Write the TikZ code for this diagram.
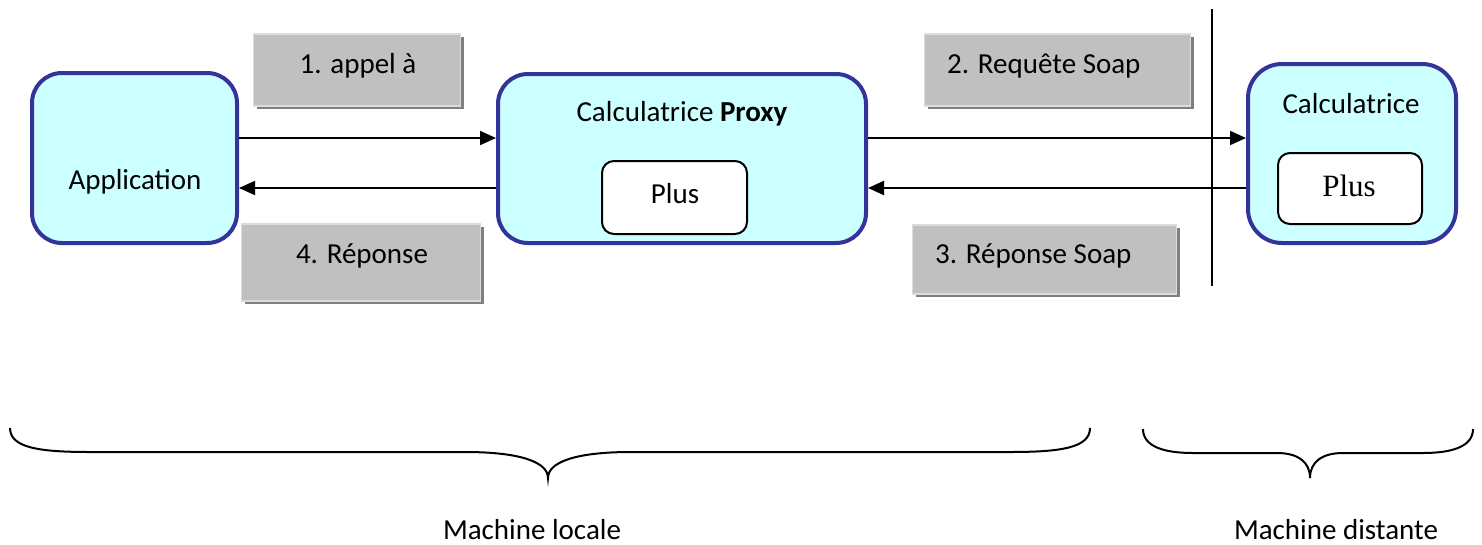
\documentclass[tikz,border=0pt]{standalone}
\usepackage{fontspec}
\setmainfont{Carlito}
\newfontfamily\timesfont{Liberation Serif}
\usetikzlibrary{arrows.meta,calc}

\definecolor{nodefill}{HTML}{CCFFFF}
\definecolor{nodeborder}{HTML}{333399}
\definecolor{labelgray}{HTML}{C0C0C0}
\definecolor{labeledge}{HTML}{DCDCDC}
\definecolor{labelshadow}{HTML}{7F7F7F}

\tikzset{
  txt/.style={inner sep=0pt, font=\fontsize{29}{35}\selectfont, anchor=base},
  component/.style={draw=nodeborder, line width=4pt, fill=nodefill,
    rounded corners=30pt, inner sep=0pt},
  method/.style={draw=black, line width=2pt, fill=white,
    rounded corners=12pt, inner sep=0pt},
  msgbox/.style={draw=labeledge, line width=1.5pt, fill=labelgray, inner sep=0pt,
    preaction={fill=labelshadow, transform canvas={xshift=3pt,yshift=-3pt}}},
  flow/.style={line width=2pt, -{Triangle[length=16pt,width=14pt]}},
  brace/.style={line width=2pt},
}

\begin{document}
\begin{tikzpicture}[x=1pt,y=-1pt]
\useasboundingbox (0,0) rectangle (1482,544);

% message labels (drawn first, shadows underneath)
\node[msgbox, minimum width=207pt, minimum height=72pt] (m1) at (357,70) {};
\node[txt] (m1t) at (358,73) {1. appel à};
\node[msgbox, minimum width=266pt, minimum height=72pt] (m2) at (1057.5,70) {};
\node[txt, anchor=base west] (m2t) at (947,73) {2. Requête Soap};
\node[msgbox, minimum width=264pt, minimum height=69pt] (m3) at (1044.5,259.5) {};
\node[txt, anchor=base west] (m3t) at (935,263) {3. Réponse Soap};
\node[msgbox, minimum width=239pt, minimum height=77pt] (m4) at (361,262.5) {};
\node[txt] (m4t) at (362,263) {4. Réponse};

% separator between the two machines
\coordinate (sepTop) at (1212,9);
\coordinate (sepBot) at (1212,286);
\draw[line width=2pt] (sepTop) -- (sepBot);

% components
\node[component, minimum width=205pt, minimum height=170pt] (app) at (134.5,158) {};
\node[txt] (appt) at (135,189) {Application};

\node[component, minimum width=368pt, minimum height=169pt] (proxy) at (682,158.5) {};
\node[txt] (proxyt) at (682,121) {Calculatrice \textbf{Proxy}};
\node[method, minimum width=145pt, minimum height=73pt] (pplus) at (674.5,197.5) {};
\node[txt] (pplust) at (675,203) {Plus};

\node[component, minimum width=208pt, minimum height=179pt, rounded corners=34pt] (remote) at (1352,153.5) {};
\node[txt] (remotet) at (1351,113) {Calculatrice};
\node[method, minimum width=144pt, minimum height=71pt] (rplus) at (1350,188.5) {};
\node[txt, font=\timesfont\fontsize{31}{36}\selectfont] (rplust) at (1349,196) {Plus};

% message flow
\coordinate (yTop) at (0,138);
\coordinate (yBot) at (0,188);
\draw[flow] (app.east |- yTop) -- (proxy.west |- yTop);
\draw[flow] (proxy.west |- yBot) -- (app.east |- yBot);
\draw[flow] (proxy.east |- yTop) -- (remote.west |- yTop);
\draw[flow] (remote.west |- yBot) -- (proxy.east |- yBot);

% braces
\draw[brace] (10,428) .. controls (10,448) and (40,452) .. (90,452)
  -- (465,452) .. controls (520,452) and (548,462) .. (548,478)
  .. controls (548,462) and (576,452) .. (631,452)
  -- (1010,452) .. controls (1060,452) and (1090,448) .. (1090,428);
\draw[brace] (1143,429) .. controls (1143,447) and (1165,453) .. (1193,453)
  -- (1277,453) .. controls (1298,453) and (1310,462) .. (1310,478)
  .. controls (1310,462) and (1322,453) .. (1343,453)
  -- (1423,453) .. controls (1451,453) and (1473,447) .. (1473,429);

\node[txt] (local) at (532,539) {Machine locale};
\node[txt] (distant) at (1336,539) {Machine distante};
\end{tikzpicture}
\end{document}
